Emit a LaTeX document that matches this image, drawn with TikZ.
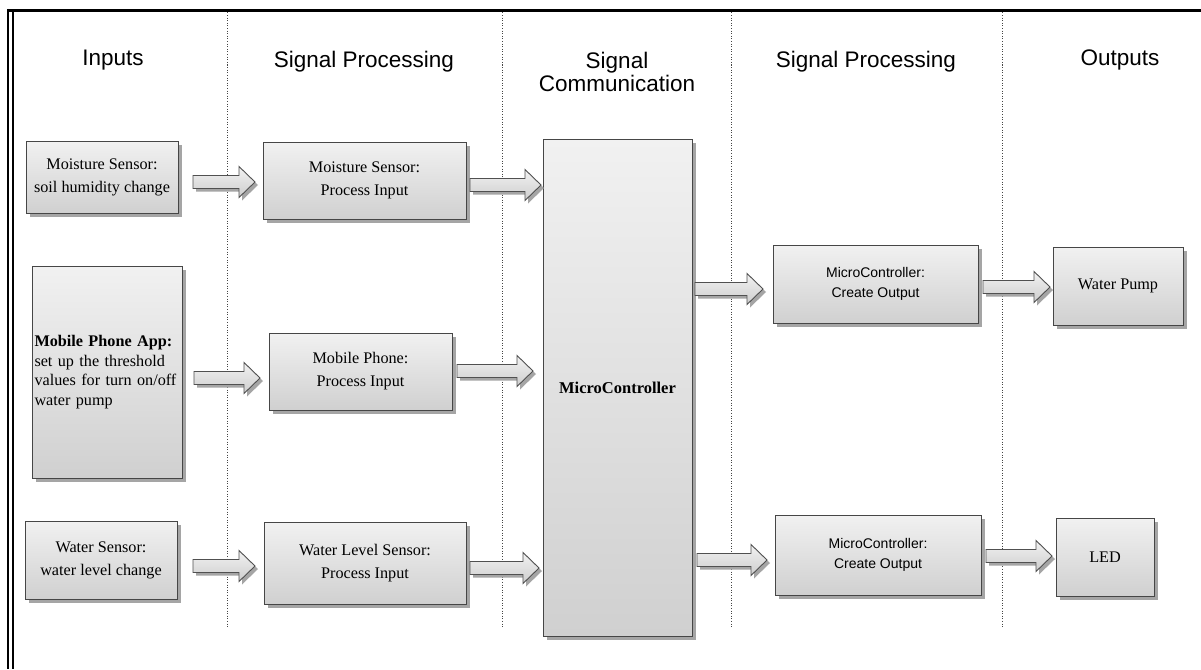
\documentclass[tikz,border=0pt]{standalone}
\usepackage{fontspec}
\setmainfont{Liberation Serif}
\newfontfamily\arialf{Liberation Sans}
\usetikzlibrary{shadows,calc}
\definecolor{boxline}{RGB}{70,70,70}
\definecolor{gtop}{RGB}{241,241,241}
\definecolor{gbot}{RGB}{208,208,208}
\definecolor{shadowc}{RGB}{165,165,165}
\definecolor{atop}{RGB}{242,242,242}
\definecolor{abot}{RGB}{205,205,205}
\definecolor{arrline}{RGB}{80,80,80}
\definecolor{dotc}{RGB}{70,70,70}
\newcommand{\barrow}[2]{%
  \path[arrowblk] ($(#1)+(0,-6.5)$) -- ($(#2)+(-16,-6.5)$) -- ($(#2)+(-16,-15.5)$) -- (#2)
    -- ($(#2)+(-16,15.5)$) -- ($(#2)+(-16,6.5)$) -- ($(#1)+(0,6.5)$) -- cycle;}
\begin{document}
\begin{tikzpicture}[x=1pt,y=-1pt,
  box/.style={draw=boxline, line width=0.9pt, top color=gtop, bottom color=gbot,
    drop shadow={shadow xshift=4pt,shadow yshift=-4pt,fill=shadowc,opacity=1},
    inner sep=0pt, align=center, font=\fontsize{16.2}{23}\selectfont},
  abox/.style={box, font=\arialf\fontsize{14}{20}\selectfont},
  arrowblk/.style={draw=arrline, line width=0.9pt, top color=atop, bottom color=abot,
    drop shadow={shadow xshift=3pt,shadow yshift=-3pt,fill=shadowc,opacity=1}},
  hdr/.style={font=\arialf\fontsize{22.5}{22}\selectfont, inner sep=0pt, anchor=base, align=center},
  sep/.style={draw=dotc, line width=0.7pt, dash pattern=on 1pt off 1.6pt},
  frame/.style={draw=black}
]
\useasboundingbox (0,0) rectangle (1201,669);
\fill[white] (0,0) rectangle (1201,669);
% frame
\draw[frame, line width=3.5pt] (7,10.5) -- (1201,10.5);
\draw[frame, line width=2.5pt] (8,9) -- (8,669);
\draw[frame, line width=2pt] (12.5,12) -- (12.5,669);
% separators
\foreach \sx in {227,502,731,1002} \draw[sep] (\sx,12.5) -- (\sx,628);
% headers
\node[hdr] (h1) at (113,65) {Inputs};
\node[hdr] (h2) at (364,67) {Signal Processing};
\node[hdr] (h3a) at (617,69) {Signal};
\node[hdr] (h3b) at (617,91) {Communication};
\node[hdr] (h4) at (866,67) {Signal Processing};
\node[hdr] (h5) at (1120,65) {Outputs};
% boxes
\node[box, minimum width=152pt, minimum height=72pt] (in1) at (102,177) {Moisture Sensor:\\soil humidity change};
\node[box, minimum width=150pt, minimum height=212pt, align=left, text width=145pt,
  font=\fontsize{16.2}{19.8}\selectfont] (in2) at (107,372)
  {\textbf{Mobile Phone App:}\\set up the threshold\\values for turn on/off\\water pump};
\node[box, minimum width=152pt, minimum height=78pt] (in3) at (101,560) {Water Sensor:\\water level change};
\node[box, minimum width=203pt, minimum height=77pt] (p1) at (364.5,180.5) {Moisture Sensor:\\Process Input};
\node[box, minimum width=183pt, minimum height=77pt] (p2) at (360.5,371.5) {Mobile Phone:\\Process Input};
\node[box, minimum width=202pt, minimum height=82pt] (p3) at (365,563) {Water Level Sensor:\\Process Input};
\node[box, minimum width=149pt, minimum height=497pt, font=\bfseries\fontsize{16.5}{20}\selectfont] (mc) at (617.5,387.5) {MicroController};
\node[abox, minimum width=205pt, minimum height=78pt] (o1) at (875.5,284) {MicroController:\\Create Output};
\node[abox, minimum width=206pt, minimum height=80pt] (o2) at (878,555) {MicroController:\\Create Output};
\node[box, minimum width=130pt, minimum height=78pt] (wp) at (1118,286) {Water Pump};
\node[box, minimum width=98pt, minimum height=78pt] (led) at (1105,557) {LED};
% arrow end points
\coordinate (a1s) at (193,182); \coordinate (a1t) at (255,182);
\coordinate (a2s) at (470,185); \coordinate (a2t) at (541,185);
\coordinate (a3s) at (194,378); \coordinate (a3t) at (260,378);
\coordinate (a4s) at (457,371); \coordinate (a4t) at (533,371);
\coordinate (a5s) at (193,566); \coordinate (a5t) at (255,566);
\coordinate (a6s) at (470,568); \coordinate (a6t) at (539,568);
\coordinate (a7s) at (695,289); \coordinate (a7t) at (763,289);
\coordinate (a8s) at (983,287); \coordinate (a8t) at (1050,287);
\coordinate (a9s) at (697,560); \coordinate (a9t) at (767,560);
\coordinate (a10s) at (986,556); \coordinate (a10t) at (1052,556);
\barrow{a1s}{a1t}
\barrow{a2s}{a2t}
\barrow{a3s}{a3t}
\barrow{a4s}{a4t}
\barrow{a5s}{a5t}
\barrow{a6s}{a6t}
\barrow{a7s}{a7t}
\barrow{a8s}{a8t}
\barrow{a9s}{a9t}
\barrow{a10s}{a10t}
\end{tikzpicture}
\end{document}
